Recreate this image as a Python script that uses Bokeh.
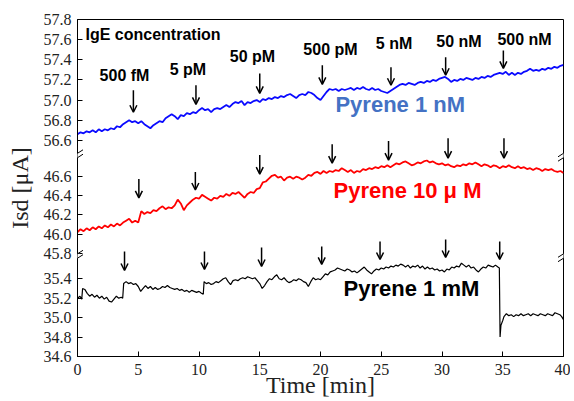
from bokeh.plotting import figure
from bokeh.models import Range1d, FixedTicker, Arrow, OpenHead, ColumnDataSource
from bokeh.core.properties import value
from bokeh.embed import file_html
from bokeh.resources import INLINE

# ---------------- data ----------------
TIME_STEP = 0.25  # min, sampling of the blue / red traces

BLUE_1NM = [
    56.66, 56.68, 56.67, 56.69, 56.68, 56.70, 56.68, 56.71,
    56.69, 56.71, 56.70, 56.72, 56.71, 56.74, 56.73, 56.76,
    56.78, 56.80, 56.78, 56.79, 56.77, 56.79, 56.76, 56.74,
    56.72, 56.75, 56.77, 56.79, 56.78, 56.82, 56.84, 56.86,
    56.84, 56.81, 56.85, 56.84, 56.87, 56.86, 56.88, 56.87,
    56.90, 56.92, 56.90, 56.91, 56.88, 56.91, 56.92, 56.91,
    56.93, 56.95, 56.93, 56.96, 56.98, 56.97, 56.99, 56.95,
    56.98, 56.97, 56.99, 57.00, 56.98, 57.01, 57.00, 57.02,
    57.01, 57.03, 57.02, 57.04, 57.03, 57.05, 57.06, 57.04,
    57.02, 57.05, 57.06, 57.05, 57.08, 57.07, 57.05, 57.02,
    57.00, 57.04, 57.08, 57.11, 57.10, 57.11, 57.09, 57.11,
    57.10, 57.11, 57.12, 57.10, 57.12, 57.11, 57.13, 57.11,
    57.10, 57.12, 57.10, 57.11, 57.09, 57.08, 57.07, 57.09,
    57.11, 57.13, 57.15, 57.16, 57.15, 57.17, 57.16, 57.15,
    57.17, 57.18, 57.17, 57.19, 57.18, 57.20, 57.19, 57.21,
    57.22, 57.23, 57.21, 57.18, 57.20, 57.19, 57.21, 57.20,
    57.22, 57.21, 57.20, 57.22, 57.21, 57.23, 57.22, 57.24,
    57.23, 57.25, 57.26, 57.27, 57.26, 57.28, 57.25, 57.27,
    57.25, 57.27, 57.26, 57.28, 57.29, 57.31, 57.29, 57.30,
    57.29, 57.31, 57.30, 57.32, 57.31, 57.33, 57.32, 57.34,
    57.35,
]

RED_10UM = [
    46.02, 46.05, 46.03, 46.06, 46.04, 46.07, 46.05, 46.08,
    46.06, 46.09, 46.07, 46.10, 46.08, 46.11, 46.09, 46.12,
    46.14, 46.16, 46.12, 46.14, 46.12, 46.24, 46.21, 46.23,
    46.22, 46.25, 46.24, 46.27, 46.29, 46.26, 46.28, 46.27,
    46.30, 46.36, 46.32, 46.25, 46.30, 46.33, 46.36, 46.38,
    46.37, 46.41, 46.39, 46.37, 46.35, 46.38, 46.37, 46.40,
    46.39, 46.42, 46.40, 46.43, 46.42, 46.44, 46.41, 46.38,
    46.42, 46.44, 46.43, 46.47, 46.48, 46.54, 46.55, 46.58,
    46.61, 46.62, 46.59, 46.60, 46.56, 46.59, 46.60, 46.58,
    46.60, 46.59, 46.57, 46.59, 46.62, 46.61, 46.64, 46.65,
    46.63, 46.66, 46.64, 46.66, 46.65, 46.67, 46.66, 46.69,
    46.67, 46.65, 46.67, 46.64, 46.66, 46.65, 46.68, 46.67,
    46.69, 46.68, 46.70, 46.69, 46.71, 46.70, 46.72, 46.70,
    46.72, 46.74, 46.73, 46.75, 46.76, 46.74, 46.72, 46.73,
    46.75, 46.74, 46.76, 46.77, 46.75, 46.76, 46.74, 46.73,
    46.74, 46.72, 46.73, 46.71, 46.70, 46.72, 46.71, 46.73,
    46.72, 46.74, 46.73, 46.75, 46.73, 46.71, 46.73, 46.72,
    46.70, 46.72, 46.71, 46.69, 46.71, 46.70, 46.72, 46.70,
    46.69, 46.71, 46.69, 46.70, 46.68, 46.69, 46.67, 46.69,
    46.68, 46.66, 46.68, 46.67, 46.68, 46.66, 46.65, 46.66,
    46.64,
]

BLACK_T = [
    0.0, 0.2, 0.35, 0.42, 0.6, 0.8, 1.0, 1.2, 1.4, 1.6, 1.8, 2.0, 2.2, 2.4, 2.6, 2.8,
    3.0, 3.2, 3.4, 3.6, 3.72, 3.8, 4.0, 4.2, 4.4, 4.6, 4.8, 5.0, 5.2, 5.4, 5.6, 5.8,
    6.0, 6.2, 6.4, 6.6, 6.8, 7.0, 7.2, 7.4, 7.6, 7.8, 8.0, 8.2, 8.4, 8.6, 8.8, 9.0,
    9.2, 9.4, 9.6, 9.8, 10.0, 10.2, 10.35, 10.42, 10.6, 10.8, 11.0, 11.2, 11.4, 11.6,
    11.8, 12.0, 12.2, 12.4, 12.6, 12.8, 13.0, 13.2, 13.4, 13.6, 13.8, 14.0, 14.2, 14.4,
    14.6, 14.8, 15.0, 15.2, 15.4, 15.6, 15.8, 16.0, 16.2, 16.4, 16.6, 16.8, 17.0, 17.2,
    17.4, 17.6, 17.8, 18.0, 18.2, 18.4, 18.6, 18.8, 19.0, 19.2, 19.4, 19.6, 19.8, 20.0,
    20.2, 20.4, 20.6, 20.8, 21.0, 21.2, 21.4, 21.6, 21.8, 22.0, 22.2, 22.4, 22.6, 22.8,
    23.0, 23.2, 23.4, 23.6, 23.8, 24.0, 24.2, 24.4, 24.6, 24.8, 25.0, 25.2, 25.4, 25.6,
    25.8, 26.0, 26.2, 26.4, 26.6, 26.8, 27.0, 27.2, 27.4, 27.6, 27.8, 28.0, 28.2, 28.4,
    28.6, 28.8, 29.0, 29.2, 29.4, 29.6, 29.8, 30.0, 30.2, 30.4, 30.6, 30.8, 31.0, 31.2,
    31.4, 31.6, 31.8, 32.0, 32.2, 32.4, 32.6, 32.8, 33.0, 33.2, 33.4, 33.6, 33.8, 34.0,
    34.2, 34.4, 34.6, 34.72, 34.78, 34.85, 35.0, 35.1, 35.3, 35.5, 35.7, 35.9, 36.1,
    36.3, 36.5, 36.7, 36.9, 37.1, 37.3, 37.5, 37.7, 37.9, 38.1, 38.3, 38.5, 38.7, 38.9,
    39.1, 39.3, 39.5, 39.7, 39.85, 40.0,
]
BLACK_1MM = [
    35.20, 35.22, 35.19, 35.30, 35.29, 35.25, 35.22, 35.24, 35.21, 35.23, 35.20, 35.22, 35.19, 35.21, 35.17, 35.16,
    35.19, 35.22, 35.20, 35.21, 35.20, 35.35, 35.37, 35.35, 35.36, 35.34, 35.35, 35.32, 35.27, 35.30, 35.33, 35.30,
    35.32, 35.29, 35.31, 35.29, 35.30, 35.32, 35.31, 35.33, 35.31, 35.30, 35.29, 35.30, 35.28, 35.29, 35.27, 35.28,
    35.26, 35.28, 35.27, 35.26, 35.27, 35.25, 35.24, 35.37, 35.35, 35.36, 35.34, 35.35, 35.37, 35.36,
    35.38, 35.40, 35.41, 35.37, 35.34, 35.38, 35.39, 35.38, 35.40, 35.41, 35.40, 35.42, 35.41, 35.40,
    35.41, 35.38, 35.35, 35.30, 35.33, 35.37, 35.40, 35.39, 35.42, 35.44, 35.40, 35.39, 35.41, 35.38,
    35.36, 35.37, 35.39, 35.38, 35.40, 35.39, 35.37, 35.36, 35.32, 35.37, 35.41, 35.39, 35.40, 35.39,
    35.42, 35.45, 35.44, 35.47, 35.48, 35.49, 35.51, 35.50, 35.49, 35.48, 35.50, 35.49, 35.47, 35.48,
    35.46, 35.48, 35.50, 35.52, 35.49, 35.47, 35.45, 35.48, 35.50, 35.49, 35.51, 35.50, 35.52, 35.51,
    35.53, 35.52, 35.54, 35.53, 35.55, 35.54, 35.52, 35.54, 35.51, 35.53, 35.52, 35.54, 35.51, 35.53,
    35.50, 35.52, 35.50, 35.51, 35.49, 35.50, 35.48, 35.49, 35.47, 35.50, 35.49, 35.52, 35.51, 35.53,
    35.52, 35.56, 35.54, 35.52, 35.54, 35.51, 35.52, 35.49, 35.47, 35.50, 35.52, 35.51, 35.54, 35.53,
    35.52, 35.54, 35.52, 35.51, 34.80, 34.92, 34.97, 35.01, 35.04, 35.02, 35.03, 35.01, 35.03,
    35.02, 35.04, 35.02, 35.03, 35.04, 35.02, 35.04, 35.03, 35.02, 35.04, 35.03, 35.02, 35.04, 35.03,
    35.02, 35.05, 35.04, 35.03, 35.01, 34.98,
]

TOP_TICKS = [56.6, 56.8, 57.0, 57.2, 57.4, 57.6, 57.8]
MID_TICKS = [45.8, 46.0, 46.2, 46.4, 46.6]
BOT_TICKS = [34.6, 34.8, 35.0, 35.2, 35.4]
X_TICKS = [0, 5, 10, 15, 20, 25, 30, 35, 40]

CONC_LABELS = ["500 fM", "5 pM", "50 pM", "500 pM", "5 nM", "50 nM", "500 nM"]
CONC_T = [3.87, 9.09, 14.40, 20.82, 26.05, 31.40, 36.79]
CONC_V = [57.246, 57.305, 57.435, 57.503, 57.560, 57.585, 57.599]

TOP_ARROW_T = [4.6, 9.75, 15.0, 20.15, 25.8, 30.3, 35.05]
TOP_ARROW_FROM = [57.097, 57.147, 57.265, 57.345, 57.325, 57.424, 57.493]
TOP_ARROW_TO = [56.879, 56.958, 57.067, 57.156, 57.147, 57.246, 57.315]

MID_ARROW_T = [5.05, 9.7, 15.0, 20.96, 25.6, 30.5, 35.1]
MID_ARROW_FROM = [46.576, 46.649, 46.827, 46.941, 46.973, 47.004, 47.004]
MID_ARROW_TO = [46.378, 46.461, 46.628, 46.743, 46.774, 46.795, 46.795]

BOT_ARROW_T = [3.87, 10.45, 15.15, 20.1, 24.9, 30.3, 34.75]
BOT_ARROW_FROM = [35.680, 35.680, 35.721, 35.731, 35.783, 35.803, 35.783]
BOT_ARROW_TO = [35.485, 35.495, 35.526, 35.547, 35.598, 35.618, 35.598]

# ---------------- layout (broken y axis) ----------------
W, H = 570, 400
FRAME_W = 486
FRAME_H = 338           # frame height in px; display y unit = 1 px above frame bottom


def top_disp(v):
    return FRAME_H - (57.8 - v) * 101.0


def mid_disp(v):
    return 180.3 + (v - 46.6) * 95.8


def bot_disp(v):
    return (v - 34.6) * 97.5


BREAKS = [201.0, 100.5]

time_grid = [i * TIME_STEP for i in range(len(BLUE_1NM))]

p = figure(width=W, height=H, output_backend="svg", toolbar_location=None,
           x_range=Range1d(0, 40), y_range=Range1d(0, FRAME_H),
           min_border_left=77, min_border_right=W - 77 - FRAME_W,
           min_border_top=19, min_border_bottom=H - 19 - FRAME_H)
p.background_fill_color = "white"
p.border_fill_color = "white"
p.outline_line_color = "black"
p.outline_line_width = 1
p.grid.visible = False

# axes
ticks, overrides = [], {}
for vals, f in ((TOP_TICKS, top_disp), (MID_TICKS, mid_disp), (BOT_TICKS, bot_disp)):
    for v in vals:
        d = round(f(v), 3)
        ticks.append(d)
        overrides[d] = f"{v:.1f}"
p.yaxis.ticker = FixedTicker(ticks=ticks)
p.yaxis.major_label_overrides = overrides
p.xaxis.ticker = FixedTicker(ticks=X_TICKS)
for ax in (p.xaxis, p.yaxis):
    ax.major_tick_in = 5
    ax.major_tick_out = 0
    ax.minor_tick_line_color = None
    ax.axis_line_color = "black"
    ax.major_tick_line_color = "black"
    ax.major_label_text_font = "Liberation Serif"
    ax.major_label_text_font_size = "16px"
    ax.major_label_text_color = "#222222"
    ax.axis_label_text_font = "Liberation Serif"
    ax.axis_label_text_font_style = "normal"
    ax.axis_label_text_font_size = "24px"
    ax.axis_label_text_color = "#222222"
p.yaxis.major_label_standoff = 6
p.xaxis.major_label_standoff = 7
p.xaxis.axis_label = "Time [min]"
p.xaxis.axis_label_standoff = -6
p.yaxis.axis_label = "Isd [\u03bcA]"
p.yaxis.axis_label_standoff = 8

# traces
p.line(time_grid, [top_disp(v) for v in BLUE_1NM], line_color="#0a0aff", line_width=1.8)
p.line(time_grid, [mid_disp(v) for v in RED_10UM], line_color="#ff0000", line_width=1.8)
p.line(BLACK_T, [bot_disp(v) for v in BLACK_1MM], line_color="black", line_width=1.2)

# arrows
for ts, fr, to, f in ((TOP_ARROW_T, TOP_ARROW_FROM, TOP_ARROW_TO, top_disp),
                      (MID_ARROW_T, MID_ARROW_FROM, MID_ARROW_TO, mid_disp),
                      (BOT_ARROW_T, BOT_ARROW_FROM, BOT_ARROW_TO, bot_disp)):
    src = ColumnDataSource(dict(x=ts, y0=[f(v) for v in fr], y1=[f(v) for v in to]))
    p.add_layout(Arrow(end=OpenHead(size=7, line_width=1.5, line_color="black"),
                       x_start="x", y_start="y0", x_end="x", y_end="y1",
                       line_width=1.5, line_color="black", source=src))

# axis break marks (screen units relative to the frame)
gx, gy0, gy1 = [], [], []
for xb in (0, FRAME_W):
    for b in BREAKS:
        gx.append(xb); gy0.append(b - 2.2); gy1.append(b + 2.2)
p.add_layout(Arrow(end=None, x_start="x", y_start="y0", x_end="x", y_end="y1",
                   start_units="screen", end_units="screen",
                   line_width=4, line_color="white",
                   source=ColumnDataSource(dict(x=gx, y0=gy0, y1=gy1))))
xs0, xs1, ys0, ys1 = [], [], [], []
for xb in (0, FRAME_W):
    for b in BREAKS:
        for off in (-2.2, 2.2):
            xs0.append(xb - 5.5); xs1.append(xb + 5.5)
            ys0.append(b + off - 3.5); ys1.append(b + off + 3.5)
p.add_layout(Arrow(end=None, x_start="xs0", y_start="ys0", x_end="xs1", y_end="ys1",
                   start_units="screen", end_units="screen",
                   line_width=1, line_color="black",
                   source=ColumnDataSource(dict(xs0=xs0, xs1=xs1, ys0=ys0, ys1=ys1))))

# texts
SANS = value("Liberation Sans")
p.text(CONC_T, [top_disp(v) for v in CONC_V], text=CONC_LABELS, text_font=SANS,
       text_font_style="bold", text_font_size="16px", text_align="center",
       text_baseline="middle", text_color="black")
p.text([0.66], [top_disp(57.651)], text=["IgE concentration"], text_font=SANS,
       text_font_style="bold", text_font_size="16px", text_align="left",
       text_baseline="middle", text_color="black")
p.text([21.23], [top_disp(56.955)], text=["Pyrene 1 nM"], text_font=SANS,
       text_font_style="bold", text_font_size="22px", text_baseline="middle",
       text_color="#4472c4")
p.text([21.07], [mid_disp(46.461)], text=["Pyrene 10 \u03bc M"], text_font=SANS,
       text_font_style="bold", text_font_size="22px", text_baseline="middle",
       text_color="#ff0000")
p.text([21.9], [bot_disp(35.295)], text=["Pyrene 1 mM"], text_font=SANS,
       text_font_style="bold", text_font_size="22px", text_baseline="middle",
       text_color="black")

open("out.html", "w").write(file_html(p, INLINE))
